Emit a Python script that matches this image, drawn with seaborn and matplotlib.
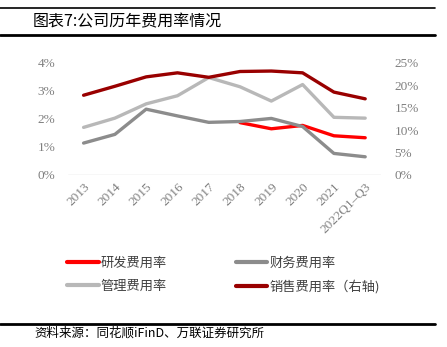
import numpy as np
import pandas as pd
import matplotlib
matplotlib.use("Agg")
import matplotlib.pyplot as plt
from matplotlib.lines import Line2D
from matplotlib.ticker import FuncFormatter, FixedLocator
import seaborn as sns

# ---- data ----
years = ['2013', '2014', '2015', '2016', '2017', '2018', '2019', '2020', '2021', '2022Q1–Q3']
rd_rate = [np.nan, np.nan, np.nan, np.nan, np.nan, 1.87, 1.65, 1.77, 1.40, 1.33]
fin_rate = [1.14, 1.45, 2.35, 2.11, 1.88, 1.91, 2.02, 1.73, 0.77, 0.65]
adm_rate = [1.70, 2.03, 2.54, 2.83, 3.48, 3.15, 2.64, 3.23, 2.06, 2.03]
sales_rate = [17.8, 19.8, 21.9, 22.8, 21.8, 23.1, 23.2, 22.8, 18.5, 17.0]
left_ticks = [0, 1, 2, 3, 4]
right_ticks = [0, 5, 10, 15, 20, 25]
labels = ['研发费用率', '管理费用率', '财务费用率', '销售费用率（右轴)']

sns.set_style("white")
CJK = ['Noto Sans CJK SC', 'DejaVu Sans']
SERIF = ['Liberation Serif', 'DejaVu Serif']
plt.rcParams['font.family'] = CJK

fig = plt.figure(figsize=(4.47, 3.47), dpi=100)
fig.patch.set_facecolor('white')
ax = fig.add_axes([0.152, 0.4957, 0.700, 0.3228])
ax2 = ax.twinx()

xpos = np.arange(len(years))
lw = 2.4
c_rd, c_fin, c_adm, c_sales = '#FF0000', '#8C8C8C', '#B8B8B8', '#990000'

sns.lineplot(x=xpos, y=rd_rate, ax=ax, color=c_rd, lw=lw, label=labels[0])
sns.lineplot(x=xpos, y=fin_rate, ax=ax, color=c_fin, lw=lw, label=labels[2])
sns.lineplot(x=xpos, y=adm_rate, ax=ax, color=c_adm, lw=lw, label=labels[1])
sns.lineplot(x=xpos, y=sales_rate, ax=ax2, color=c_sales, lw=lw, label=labels[3])

for a in (ax, ax2):
    if a.get_legend() is not None:
        a.get_legend().remove()
    for s in a.spines.values():
        s.set_visible(False)
    a.set_xlabel('')
    a.set_ylabel('')
    a.set_xlim(-0.5, len(years) - 0.5)
    a.tick_params(length=0, colors='#7F7F7F', labelsize=9.5)

ax.set_ylim(0, 4)
ax2.set_ylim(0, 25)
ax.yaxis.set_major_locator(FixedLocator(left_ticks))
ax2.yaxis.set_major_locator(FixedLocator(right_ticks))
ax.yaxis.set_major_formatter(FuncFormatter(lambda v, p: f"{v:.0f}%"))
ax2.yaxis.set_major_formatter(FuncFormatter(lambda v, p: f"{v:.0f}%"))
ax.axhline(0, color='#D9D9D9', lw=1.0, zorder=0)

ax.set_xticks(xpos)
ax.set_xticklabels(years, rotation=45, ha='right', rotation_mode='anchor')
ax.tick_params(axis='x', pad=4)
ax.tick_params(axis='y', pad=9)
ax2.tick_params(axis='y', pad=10)
for t in ax.get_xticklabels() + ax.get_yticklabels() + ax2.get_yticklabels():
    t.set_fontfamily(SERIF)
    t.set_color('#7F7F7F')
for t in ax2.get_yticklabels():
    t.set_horizontalalignment('left')

# legend
handles = [Line2D([], [], color=c_rd, lw=3), Line2D([], [], color=c_adm, lw=3),
           Line2D([], [], color=c_fin, lw=3), Line2D([], [], color=c_sales, lw=3)]
leg = fig.legend(handles, labels, ncol=2, loc='center', bbox_to_anchor=(0.50, 0.207),
                 frameon=False, fontsize=9.5, handlelength=2.4, handletextpad=0.15,
                 columnspacing=5.2, labelspacing=0.75)
for t in leg.get_texts():
    t.set_color('#404040')

# header / footer rules and texts
fig.add_artist(Line2D([0, 0.973], [0.977, 0.977], color='black', lw=1.2))
fig.add_artist(Line2D([0, 0.973], [0.899, 0.899], color='black', lw=2.0))
fig.add_artist(Line2D([0, 0.973], [0.066, 0.066], color='black', lw=2.0))
fig.text(0.074, 0.937, '图表7:公司历年费用率情况', fontsize=11.5, va='center', ha='left', color='black')
fig.text(0.078, 0.040, '资料来源：同花顺iFinD、万联证券研究所', fontsize=9, va='center', ha='left',
         style='italic', color='black')

fig.savefig('out.png', dpi=100, facecolor='white')
